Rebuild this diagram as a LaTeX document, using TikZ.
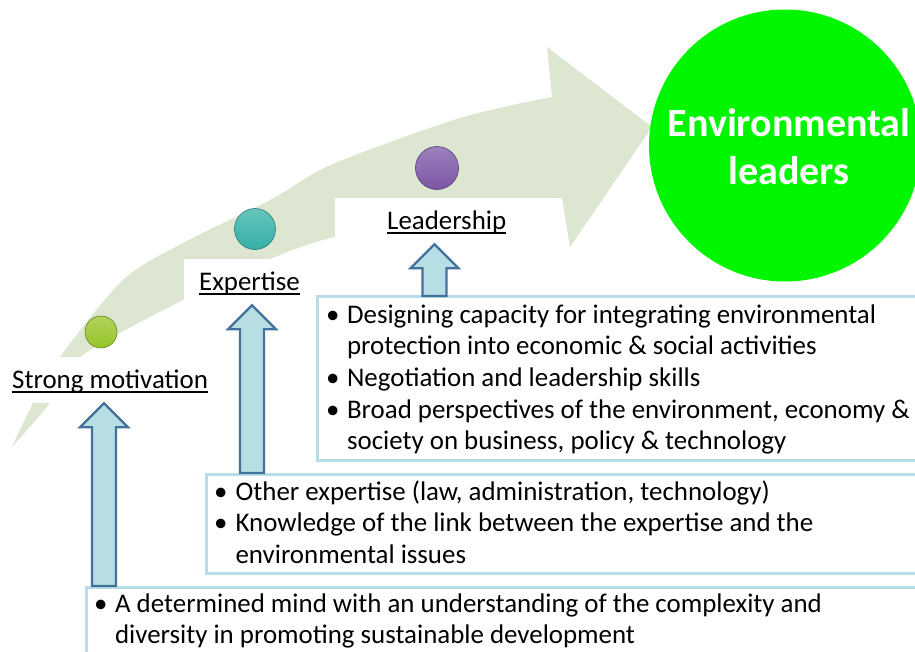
\documentclass[tikz,border=0pt]{standalone}
\usepackage{fontspec}
\setmainfont{Carlito}
\usetikzlibrary{calc}

\definecolor{bandgreen}{RGB}{221,230,209}
\definecolor{arrowfill}{RGB}{183,222,226}
\definecolor{arrowline}{RGB}{65,113,156}
\definecolor{boxline}{RGB}{183,222,232}
\definecolor{goalgreen}{RGB}{0,245,0}
\definecolor{ballone}{RGB}{150,196,40}
\definecolor{balltwo}{RGB}{52,176,166}
\definecolor{ballthree}{RGB}{124,86,166}

\newcommand\txtsize{\fontsize{26.9}{31.7}\selectfont}
\newcommand\goalsize{\fontsize{40}{48}\selectfont}
\newsavebox\ulbox
\newcommand\undl[1]{\sbox\ulbox{#1}\rlap{\rule[-4.5pt]{\wd\ulbox}{1.3pt}}\usebox\ulbox}

\tikzset{
  stage/.style={fill=white, anchor=base west, inner ysep=0pt,
    text height=31pt, text depth=15pt, font=\txtsize},
  stageball/.style={circle, inner sep=0pt, draw=#1!70!black, line width=0.6pt,
    top color=#1!75!white, bottom color=#1},
  infobox/.style={draw=boxline, fill=white, line width=2.5pt, anchor=north west, inner sep=0pt},
  bullets/.style={anchor=base west, inner sep=0pt, font=\txtsize},
  blockup/.style={draw=arrowline, fill=arrowfill, line width=2.2pt, line join=miter,
    to path={let \p1=(\tikztostart), \p2=(\tikztotarget) in
      (\x1-12pt,\y1) -- (\x1-12pt,\y2-24pt) -- (\x1-24pt,\y2-24pt) -- (\x1,\y2)
      -- (\x1+24pt,\y2-24pt) -- (\x1+12pt,\y2-24pt) -- (\x1+12pt,\y1) -- cycle}}
}

\begin{document}
\begin{tikzpicture}[x=1pt,y=-1pt]
  \useasboundingbox (0,0) rectangle (915,651);
  \clip (0,0) rectangle (915,651);

  % the big curved arrow
  \fill[bandgreen]
    plot[smooth] coordinates {(12,447) (33,403) (60,357) (123,280) (183,243)
      (270,200) (333,164) (460,118) (552,97)}
    -- (547,47) -- (652,127) -- (570,247) -- (562,198)
    -- plot[smooth] coordinates {(562,198) (450,214) (334,237) (270,259)
      (183,300) (80,357) (50,403) (12,447)} -- cycle;

  % stages
  \node[stage, inner xsep=12pt] (motiv) at (0,388) {\undl{Strong motivation}};
  \node[stage, inner xsep=15pt] (exper) at (184,290) {\undl{Expertise}};
  \node[stage, inner xsep=52pt] (lead) at (335,229) {\undl{Leadership}};

  \node[stageball=ballone, minimum size=32pt] (ball1) at (101,332) {};
  \node[stageball=balltwo, minimum size=41pt] (ball2) at (255,229) {};
  \node[stageball=ballthree, minimum size=43pt] (ball3) at (437,168) {};

  % boxes with the contents
  \node[infobox, minimum width=602pt, minimum height=164pt] (box3) at (316,295) {};
  \node[infobox, minimum width=713pt, minimum height=99pt] (box2) at (205,473) {};
  \node[infobox, minimum width=833pt, minimum height=80pt] (box1) at (85,586) {};

  \node[bullets] (txt3) at (326,323) {\begin{tabular}[t]{@{}l@{\hspace{7.5pt}}l@{}}
    \textbullet & Designing capacity for integrating environmental\\
                & protection into economic \& social activities\\
    \textbullet & Negotiation and leadership skills\\
    \textbullet & Broad perspectives of the environment, economy \&\\
                & society on business, policy \& technology
  \end{tabular}};
  \node[bullets] (txt2) at (214,500) {\begin{tabular}[t]{@{}l@{\hspace{8pt}}l@{}}
    \textbullet & Other expertise (law, administration, technology)\\
    \textbullet & Knowledge of the link between the expertise and the\\
                & environmental issues
  \end{tabular}};
  \node[bullets] (txt1) at (94,612) {\begin{tabular}[t]{@{}l@{\hspace{7.5pt}}l@{}}
    \textbullet & A determined mind with an understanding of the complexity and\\
                & diversity in promoting sustainable development
  \end{tabular}};

  % up arrows
  \coordinate (foot1) at (104,586);
  \coordinate (foot2) at (252,473);
  \coordinate (foot3) at (434.5,296);
  \draw[blockup] (foot1) to (motiv.south);
  \draw[blockup] (foot2) to (exper.south);
  \draw[blockup] (foot3) to (lead.south);

  % goal
  \node[circle, fill=goalgreen, minimum size=272pt, inner sep=0pt] (goal) at (785,145.5) {};
  \node[align=center, font=\goalsize\bfseries, text=white] (goaltxt) at (789,146.5)
    {Environmental\\leaders};
\end{tikzpicture}
\end{document}
